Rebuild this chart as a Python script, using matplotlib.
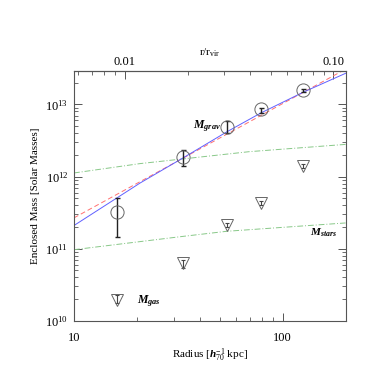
import numpy as np
import matplotlib
matplotlib.use("Agg")
import matplotlib.pyplot as plt
from matplotlib.ticker import LogLocator, FixedLocator, FixedFormatter, NullFormatter

plt.rcParams['font.family'] = ['Liberation Serif', 'DejaVu Serif']
plt.rcParams['mathtext.fontset'] = 'custom'
plt.rcParams['mathtext.rm'] = 'Liberation Serif'
plt.rcParams['mathtext.it'] = 'Liberation Serif:italic'
plt.rcParams['mathtext.bf'] = 'Liberation Serif:italic:bold'

# ---- data ----
R_VIR = 1750.0  # kpc, for the top r/r_vir axis

# gravitating mass measurements (circles)
r_grav = [16.1, 33.4, 53.9, 79.0, 125.6]
m_grav = [3.24e11, 1.89e12, 4.79e12, 8.6e12, 1.58e13]
m_grav_lo = [1.43e11, 1.42e12, 4.07e12, 7.5e12, 1.47e13]
m_grav_hi = [5.1e11, 2.33e12, 5.8e12, 8.95e12, 1.63e13]

# gas mass (triangles)
r_gas = [16.1, 33.4, 53.9, 79.0, 125.6]
m_gas = [1.94e10, 6.3e10, 2.15e11, 4.3e11, 1.4e12]
m_gas_lo = [1.75e10, 5.4e10, 2.0e11, 4.0e11, 1.3e12]
m_gas_hi = [2.26e10, 7.0e10, 2.3e11, 4.6e11, 1.5e12]

# model curves
r_blue = [10, 20.7, 33.4, 54, 78.5, 125.6, 200]
m_blue = [2.09e11, 8.1e11, 1.82e12, 4.17e12, 7.6e12, 1.48e13, 2.7e13]
r_red = [10, 194]
m_red = [2.67e11, 2.94e13]
r_green_hi = [10, 20.7, 69, 200]
m_green_hi = [1.12e12, 1.51e12, 2.21e12, 2.79e12]
r_green_lo = [10, 20.7, 33.4, 54, 200]
m_green_lo = [9.66e10, 1.25e11, 1.48e11, 1.74e11, 2.27e11]

x_ticks = [10, 100]
x_ticklabels = ['10', '100']
top_ticks = [0.01, 0.1]
top_ticklabels = ['0.01', '0.10']

fig = plt.figure(figsize=(3.68, 3.68), dpi=100)
ax = fig.add_axes([0.201, 0.1285, 0.738, 0.6795])
ax.set_xscale('log')
ax.set_yscale('log')
ax.set_xlim(10, 200)
ax.set_ylim(1e10, 2.94e13)

spine_c = '#555555'
for s in ax.spines.values():
    s.set_color(spine_c)
    s.set_linewidth(0.8)

ax.plot(r_green_hi, m_green_hi, color='#88c888', lw=0.7, ls=(0, (6, 2, 1, 2)))
ax.plot(r_green_lo, m_green_lo, color='#88c888', lw=0.7, ls=(0, (6, 2, 1, 2)))
ax.plot(r_red, m_red, color='#ff7070', lw=0.7, ls=(0, (5, 3)))
ax.plot(r_blue, m_blue, color='#6060ff', lw=0.7)

mg = np.array(m_grav)
ax.errorbar(r_grav, m_grav,
            yerr=[mg - np.array(m_grav_lo), np.array(m_grav_hi) - mg],
            fmt='none', ecolor='#222222', elinewidth=1.0, capsize=1.8, capthick=1.0)
ax.plot(r_grav, m_grav, 'o', ms=9.5, mfc='none', mec='#666666', mew=0.7)

ms_ = np.array(m_gas)
ax.errorbar(r_gas, m_gas,
            yerr=[ms_ - np.array(m_gas_lo), np.array(m_gas_hi) - ms_],
            fmt='none', ecolor='#444444', elinewidth=0.8, capsize=1.5, capthick=0.8)
ax.plot(r_gas, m_gas, 'v', ms=9, mfc='none', mec='#666666', mew=0.7)

ax.text(37.2, 4.98e12, r'$\mathbf{M}_{\mathbf{grav}}$', fontsize=8.5, ha='left', va='center')
ax.text(135, 1.68e11, r'$\mathbf{M}_{\mathbf{stars}}$', fontsize=8, ha='left', va='center')
ax.text(20.0, 1.85e10, r'$\mathbf{M}_{\mathbf{gas}}$', fontsize=8.5, ha='left', va='center')

ax.xaxis.set_major_locator(FixedLocator(x_ticks))
ax.xaxis.set_major_formatter(FixedFormatter(x_ticklabels))
ax.xaxis.set_minor_locator(LogLocator(base=10, subs=np.arange(2, 10)))
ax.xaxis.set_minor_formatter(NullFormatter())
ax.yaxis.set_minor_locator(LogLocator(base=10, subs=np.arange(2, 10)))
ax.yaxis.set_minor_formatter(NullFormatter())

ax.tick_params(which='both', direction='in', color=spine_c, labelsize=9, top=False, right=True)
ax.tick_params(which='major', length=6, width=0.7, pad=8)
ax.tick_params(axis='y', which='major', pad=4)
ax.tick_params(which='minor', length=3, width=0.6)

sec = ax.secondary_xaxis('top', functions=(lambda r: r / R_VIR, lambda q: q * R_VIR))
sec.set_xticks(top_ticks)
sec.set_xticklabels(top_ticklabels)
sec.xaxis.set_minor_locator(LogLocator(base=10, subs=np.arange(2, 10)))
sec.xaxis.set_minor_formatter(NullFormatter())
sec.tick_params(which='both', direction='in', color=spine_c, labelsize=9)
sec.tick_params(which='major', length=6, width=0.7, pad=2)
sec.tick_params(which='minor', length=3, width=0.6)
sec.spines['top'].set_color(spine_c)
ax.text(0.5, 1.071, r'r/r$_{\rm vir}$', fontsize=8, ha='center', va='center',
        transform=ax.transAxes)

ax.set_xlabel(r'Radius [$\mathbf{h}_{70}^{-1}$ kpc]', fontsize=8, labelpad=2)
ax.set_ylabel('Enclosed Mass [Solar Masses]', fontsize=8, labelpad=4)

fig.savefig('out.png', dpi=100)
